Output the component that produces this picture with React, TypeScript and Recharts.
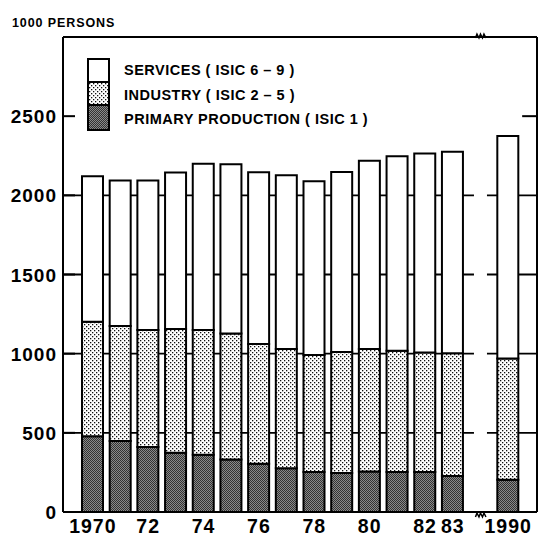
import { Bar, BarChart, CartesianGrid, ReferenceDot, ReferenceLine, XAxis, YAxis } from "recharts";

const CATEGORIES = ["1970", "1971", "1972", "1973", "1974", "1975", "1976", "1977", "1978", "1979", "1980", "1981", "1982", "1983", "break", "1990"];
const TICK_LABELS = ["1970", "", "72", "", "74", "", "76", "", "78", "", "80", "", "82", "83", "", "1990"];

const PRIMARY = [478, 448, 410, 375, 362, 332, 305, 277, 252, 246, 256, 252, 252, 227, null, 204];
const INDUSTRY = [724, 727, 739, 781, 787, 796, 756, 753, 739, 764, 773, 766, 756, 775, null, 766];
const SERVICES = [918, 918, 944, 988, 1050, 1068, 1085, 1097, 1098, 1138, 1189, 1229, 1256, 1273, null, 1405];

const Y_TICKS = [0, 500, 1000, 1500, 2000, 2500];
const GRID_VALUES = [500, 1000, 1500, 2000];

const LEGEND = [
  { label: "SERVICES ( ISIC 6 – 9 )", fill: "#fff" },
  { label: "INDUSTRY ( ISIC 2 – 5 )", fill: "url(#dots)" },
  { label: "PRIMARY PRODUCTION ( ISIC 1 )", fill: "url(#dark)" },
];

const FONT = "'Liberation Sans', Arial, Helvetica, sans-serif";

const data = CATEGORIES.map((year, i) => ({
  year,
  primary: PRIMARY[i],
  industry: INDUSTRY[i],
  services: SERVICES[i],
}));

function XTick(props: any) {
  const { x, y, index } = props;
  return (
    <text x={x} y={y + 20.5} textAnchor="middle" fontFamily={FONT} fontWeight={700} fontSize={19.5} letterSpacing={1} fill="#000">
      {TICK_LABELS[index]}
    </text>
  );
}

function LeftTick(props: any) {
  const { x, y, payload } = props;
  return (
    <g>
      <path d={`M${x},${y}h12`} stroke="#000" strokeWidth={2} />
      <text x={x - 6} y={y + 7} textAnchor="end" fontFamily={FONT} fontWeight={700} fontSize={19} letterSpacing={1} fill="#000">
        {payload.value}
      </text>
    </g>
  );
}

// short inward tick on the right frame, next to the last bar
function RightTick(props: any) {
  const { cx, cy } = props;
  return <path d={`M${cx + 14},${cy}h15`} stroke="#000" strokeWidth={2} />;
}

function BreakMark(props: any) {
  const { cx, cy } = props;
  return (
    <path
      d={`M${cx - 5},${cy + 1} l1.5,-4 l2,4 l1.5,-4 l2,4 l1.5,-4 l2,4`}
      stroke="#000"
      strokeWidth={1.5}
      fill="none"
    />
  );
}

export default function App() {
  return (
    <div style={{ position: "absolute", left: 0, top: 0, width: 541, height: 535, background: "#fff" }}>
      <svg width={0} height={0} style={{ position: "absolute" }}>
        <defs>
          <pattern id="dots" width={4} height={4} patternUnits="userSpaceOnUse">
            <rect width={4} height={4} fill="#fff" />
            <rect x={0} y={0} width={1.3} height={1.3} fill="#111" />
            <rect x={2} y={2} width={1.3} height={1.3} fill="#111" />
          </pattern>
          <pattern id="dark" width={2} height={2} patternUnits="userSpaceOnUse">
            <rect width={2} height={2} fill="#8a8a8a" />
            <rect x={0} y={0} width={1} height={1} fill="#333" />
            <rect x={1} y={1} width={1} height={1} fill="#333" />
          </pattern>
        </defs>
      </svg>

      <div
        style={{
          position: "absolute",
          left: 12,
          top: 16,
          fontFamily: FONT,
          fontWeight: 700,
          fontSize: 12.5,
          letterSpacing: 0.9,
          lineHeight: "15px",
        }}
      >
        1000 PERSONS
      </div>

      <BarChart width={541} height={535} data={data} margin={{ top: 37, right: 0, bottom: 0, left: 0 }} barSize={21}>
        <CartesianGrid yAxisId="left" horizontal vertical={false} horizontalValues={GRID_VALUES} stroke="#000" strokeWidth={1.8} />
        <XAxis
          dataKey="year"
          interval={0}
          height={23}
          tickSize={0}
          tickMargin={0}
          padding={{ left: 16, right: 15 }}
          axisLine={{ stroke: "#000", strokeWidth: 2 }}
          tickLine={false}
          tick={(p: any) => <XTick {...p} />}
        />
        <YAxis
          yAxisId="left"
          width={63}
          domain={[0, 3000]}
          ticks={Y_TICKS}
          interval={0}
          tickSize={0}
          tickMargin={0}
          axisLine={{ stroke: "#000", strokeWidth: 2 }}
          tickLine={false}
          tick={(p: any) => <LeftTick {...p} />}
        />
        <YAxis
          yAxisId="right"
          orientation="right"
          width={4}
          domain={[0, 3000]}
          ticks={Y_TICKS}
          tick={false}
          tickLine={false}
          axisLine={{ stroke: "#000", strokeWidth: 2 }}
        />
        <Bar yAxisId="left" dataKey="primary" stackId="a" fill="url(#dark)" stroke="#000" strokeWidth={2} isAnimationActive={false} />
        <Bar yAxisId="left" dataKey="industry" stackId="a" fill="url(#dots)" stroke="#000" strokeWidth={2} isAnimationActive={false} />
        <Bar yAxisId="left" dataKey="services" stackId="a" fill="#fff" stroke="#000" strokeWidth={2} isAnimationActive={false} />
        <ReferenceLine yAxisId="left" y={3000} stroke="#000" strokeWidth={2} ifOverflow="visible" />
        <ReferenceLine
          yAxisId="left"
          segment={[
            { x: "break", y: 40 },
            { x: "break", y: 2960 },
          ]}
          stroke="#fff"
          strokeWidth={13}
        />
        <ReferenceDot yAxisId="left" x="1990" y={2500} ifOverflow="visible" shape={RightTick} />
        <ReferenceDot yAxisId="left" x="break" y={3000} ifOverflow="visible" shape={BreakMark} />
        <ReferenceDot yAxisId="left" x="break" y={0} ifOverflow="visible" shape={(p: any) => <BreakMark cx={p.cx} cy={p.cy + 4} />} />
      </BarChart>

      <div
        style={{
          position: "absolute",
          left: 87,
          top: 58,
          width: 19,
          border: "2px solid #000",
          background: "#fff",
        }}
      >
        {LEGEND.map((item, i) => (
          <svg key={item.label} width={19} height={i === 2 ? 23 : 21} style={{ display: "block", borderBottom: i < 2 ? "2px solid #000" : "none" }}>
            <rect width={19} height={25} fill={item.fill} />
          </svg>
        ))}
      </div>
      {LEGEND.map((item, i) => (
        <div
          key={item.label}
          style={{
            position: "absolute",
            left: 124,
            top: [61, 86, 110][i],
            fontFamily: FONT,
            fontWeight: 700,
            fontSize: 14.5,
            letterSpacing: 0.5,
            lineHeight: "18px",
            whiteSpace: "nowrap",
          }}
        >
          {item.label}
        </div>
      ))}
    </div>
  );
}
